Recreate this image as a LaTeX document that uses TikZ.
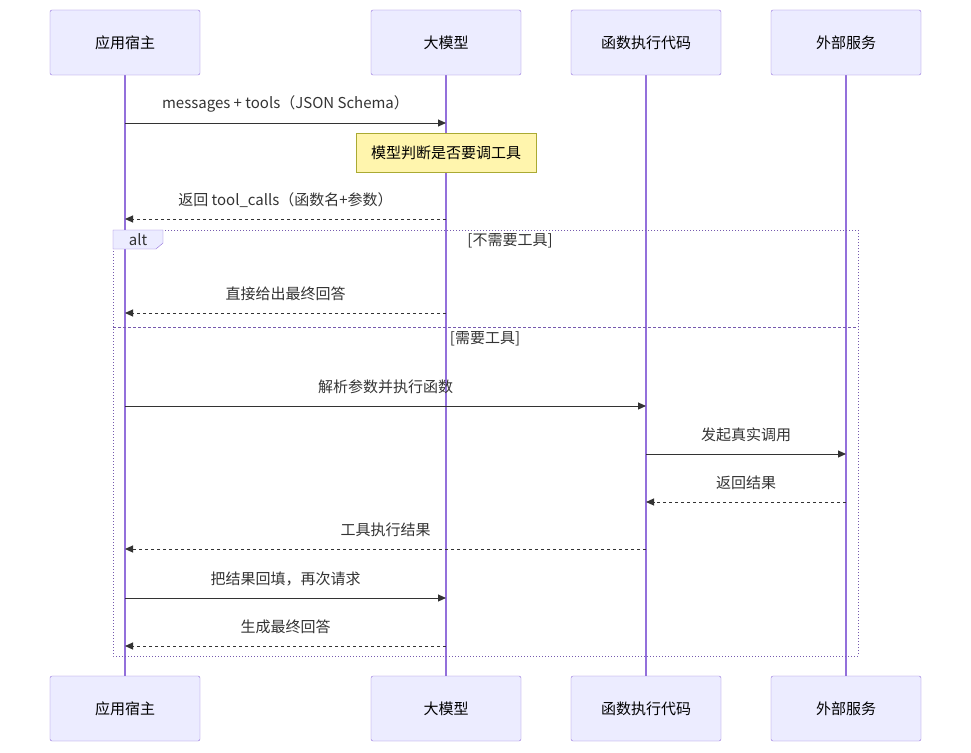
\documentclass[tikz,border=0pt]{standalone}
\usepackage{fontspec}
\setmainfont{Noto Sans CJK SC}
\usepackage{tikz}
\usetikzlibrary{arrows.meta}

\definecolor{actfill}{HTML}{ECECFF}
\definecolor{actline}{HTML}{9370DB}
\definecolor{notefill}{HTML}{FFF5AD}
\definecolor{noteline}{HTML}{AAAA33}
\definecolor{msg}{HTML}{333333}

\tikzset{
  actor/.style={draw=actline, fill=actfill, rounded corners=2pt, minimum width=150pt, minimum height=65pt, font=\fontsize{15}{17}\selectfont},
  life/.style={draw=actline, line width=1.2pt},
  call/.style={draw=msg, line width=1pt, -{Triangle[length=8pt,width=7pt]}},
  back/.style={call, dashed, dash pattern=on 3pt off 3pt},
  lbl/.style={font=\fontsize{15}{17}\selectfont, text=msg, inner sep=0pt}
}

\begin{document}
\begin{tikzpicture}[x=1pt, y=-1pt]
    \useasboundingbox (0,0) rectangle (971,752);

    % participants, top and bottom
    \foreach \n/\x/\t in {host/125/应用宿主, llm/446/大模型, fn/646/函数执行代码, ext/846/外部服务} {
        \draw[life] (\x,75) -- (\x,676);
        \node[actor] (\n-top) at (\x,42.5) {\t};
        \node[actor] (\n-bot) at (\x,708.5) {\t};
    }

    % alt frame
    \draw[actline!80!black, line width=1pt, dotted] (113,230) rectangle (858,656);
    \draw[actline!80!black, line width=1pt, dashed, dash pattern=on 3pt off 2pt] (113,327) -- (858,327);
    \draw[actline, fill=actfill] (113,230) -- (163,230) -- (163,243) -- (156,249) -- (113,249) -- cycle;
    \node[lbl] (alt) at (138,240) {alt};
    \node[lbl] (c1) at (510,241) {[不需要工具]};
    \node[lbl] (c2) at (485,339) {[需要工具]};

    % note
    \node[draw=noteline, fill=notefill, minimum width=180pt, minimum height=39pt, font=\fontsize{15}{17}\selectfont] (note) at (446,152.5) {模型判断是否要调工具};

    % messages
    \foreach \i/\a/\b/\y/\s/\t in {
        1/125/446/123/call/{messages + tools（JSON Schema）},
        2/446/125/219/back/{返回 tool\_calls（函数名+参数）},
        3/446/125/313/back/{直接给出最终回答},
        4/125/646/406/call/{解析参数并执行函数},
        5/646/846/454/call/{发起真实调用},
        6/846/646/502/back/{返回结果},
        7/646/125/549/back/{工具执行结果},
        8/125/446/598/call/{把结果回填，再次请求},
        9/446/125/646/back/{生成最终回答}} {
        \coordinate (m\i-s) at (\a,\y);
        \coordinate (m\i-e) at (\b,\y);
        \draw[\s] (m\i-s) -- (m\i-e);
        \node[lbl] (m\i-l) at ({(\a+\b)/2},\y-19) {\t};
    }
\end{tikzpicture}
\end{document}
